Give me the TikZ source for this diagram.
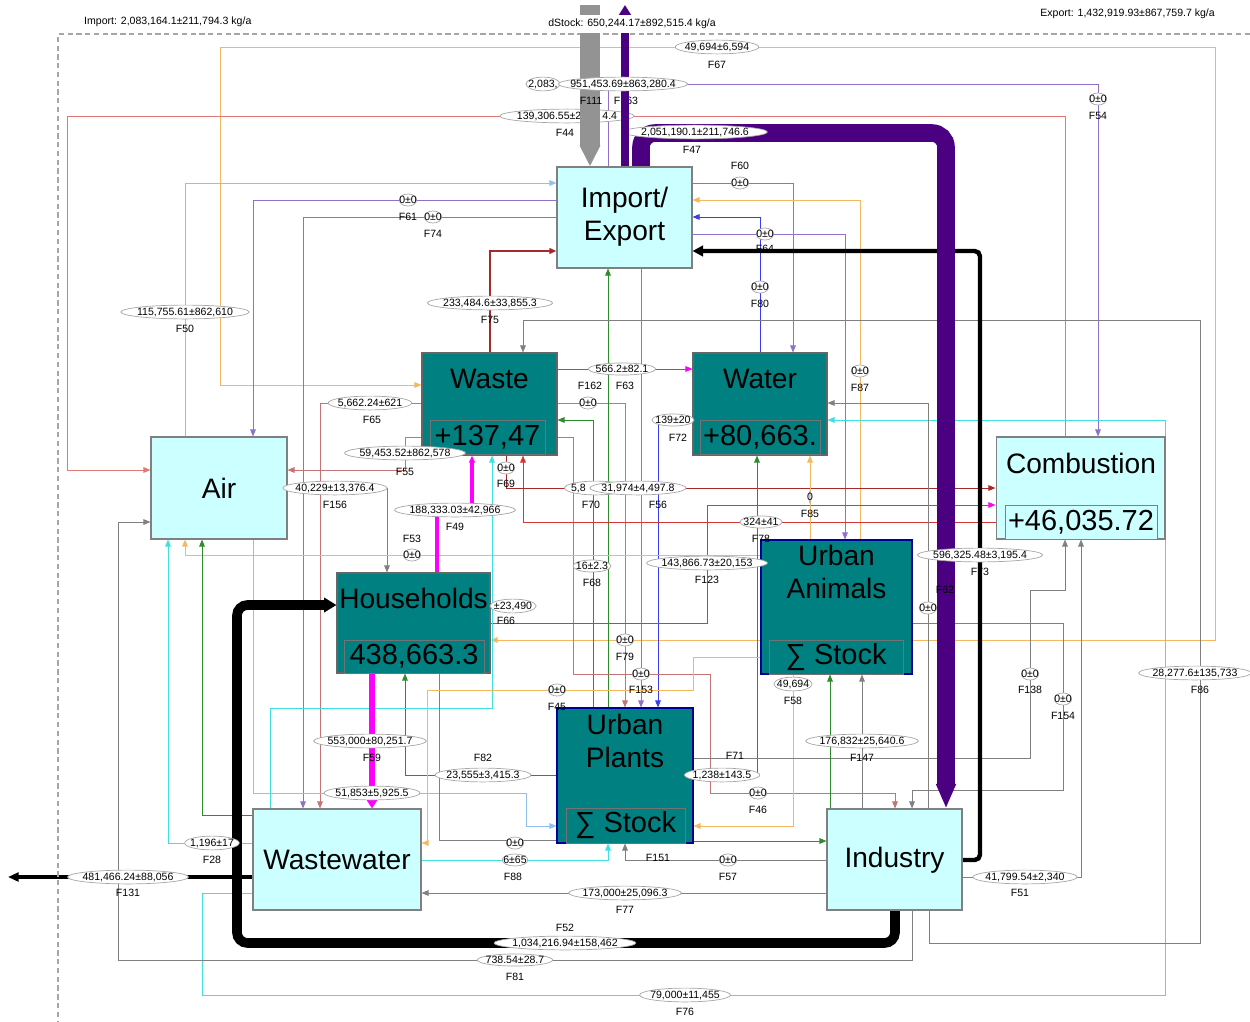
\documentclass[tikz,border=0pt]{standalone}
\usepackage{fontspec}
\setmainfont{Liberation Sans}
\usetikzlibrary{arrows.meta,shapes.geometric}

\definecolor{boxcyan}{HTML}{CCFFFF}
\definecolor{boxteal}{HTML}{008080}
\definecolor{flowind}{HTML}{4B0082}
\definecolor{flowlav}{HTML}{9070C8}
\definecolor{floworn}{HTML}{F4B860}
\definecolor{flowpink}{HTML}{E07878}
\definecolor{flowrose}{HTML}{C47474}
\definecolor{flowred}{HTML}{D03838}
\definecolor{flowdred}{HTML}{A52A2A}
\definecolor{flowmag}{HTML}{FF00FF}
\definecolor{flowgrn}{HTML}{2E8B2E}
\definecolor{flowcyn}{HTML}{40E0E0}
\definecolor{flowsky}{HTML}{90C0F0}
\definecolor{flowblu}{HTML}{3A3AF0}
\definecolor{flowgry}{HTML}{808080}

\newcommand{\lblfont}{\fontsize{6}{7}\selectfont}
\newcommand{\titfont}{\fontsize{16}{19}\selectfont}
\newcommand{\numfont}{\fontsize{16.5}{18}\selectfont}

\pgfdeclarelayer{flows}
\pgfsetlayers{flows,main}

\tikzset{
  cbox/.style={draw=gray, fill=boxcyan, line width=0.6pt, inner sep=0pt},
  tbox/.style={draw=black!60, fill=boxteal, line width=0.6pt, inner sep=0pt},
  ubox/.style={draw=blue!60!black, fill=boxteal, line width=0.6pt, inner sep=0pt},
  numbox/.style={draw=black!55, fill=boxteal, font=\numfont, inner sep=0pt, minimum height=0.68cm},
  title/.style={font=\titfont, align=center, inner sep=0pt},
  val/.style={ellipse, draw=gray!70, fill=white, line width=0.4pt, font=\lblfont, inner xsep=-1.5pt, inner ysep=0.3pt},
  fid/.style={font=\lblfont, inner sep=0.5pt},
  flow/.style={line width=0.5pt, ->},
}

\begin{document}
\begin{tikzpicture}[x=0.02cm, y=-0.02cm, >={Triangle[length=4pt,width=3.2pt]}]
\useasboundingbox (0,0) rectangle (1250,1021);
\draw[gray!70, densely dashed, line width=0.6pt] (1250,34) -- (58,34) -- (58,1021);

% Prozesse
\node[cbox, minimum width=2.7cm, minimum height=2.02cm] (imex) at (624.5,217.5) {};
\node[title] (imext) at (624.5,217) {Import/\\Export};
\node[tbox, minimum width=2.7cm, minimum height=2.04cm] (waste) at (489.5,404) {};
\node[title] (wastet) at (489.5,379) {Waste};
\node[numbox, minimum width=2.3cm] (wastev) at (487.5,437.5) {+137,47};
\node[tbox, minimum width=2.68cm, minimum height=2.04cm] (water) at (760,404) {};
\node[title] (watert) at (760,379) {Water};
\node[numbox, minimum width=2.4cm] (waterv) at (760,437.5) {+80,663.};
\node[cbox, minimum width=2.72cm, minimum height=2.04cm] (air) at (219,488) {};
\node[title] (airt) at (219,488) {Air};
\node[cbox, minimum width=3.38cm, minimum height=2.04cm] (comb) at (1080.5,488) {};
\node[title] (combt) at (1081,463) {Combustion};
\node[numbox, fill=boxcyan, draw=gray, minimum width=3.04cm] (combv) at (1081,522) {+46,035.72};
\node[tbox, minimum width=3.06cm, minimum height=2.0cm] (hh) at (413.5,623) {};
\node[title] (hht) at (413.5,598) {Households};
\node[numbox, minimum width=2.8cm, minimum height=0.66cm] (hhv) at (414,656.5) {438,663.3};
\node[ubox, minimum width=3.02cm, minimum height=2.68cm] (ua) at (836.5,607) {};
\node[title] (uat) at (836.5,572) {Urban\\Animals};
\node[numbox, minimum width=2.68cm] (uav) at (836,657) {∑ Stock};
\node[ubox, minimum width=2.72cm, minimum height=2.7cm] (up) at (625,775.5) {};
\node[title] (upt) at (625,741) {Urban\\Plants};
\node[numbox, minimum width=2.38cm, minimum height=0.7cm] (upv) at (625.5,825.5) {∑ Stock};
\node[cbox, minimum width=3.36cm, minimum height=2.02cm] (ww) at (337,859.5) {};
\node[title] (wwt) at (337,860) {Wastewater};
\node[cbox, minimum width=2.7cm, minimum height=2.02cm] (ind) at (894.5,859.5) {};
\node[title] (indt) at (894.5,860) {Industry};

% Fluesse
\begin{pgfonlayer}{flows}
\draw[flow, floworn, <->] (hh.east |- 0,640) -| (1215,47) -| (220,385) -- (waste.west |- 0,385);
\draw[flow, flowlav] (imex.north -| 608,0) |- (1098,84) -- (comb.north -| 1098,0);
\draw[flow, flowpink] (comb.north -| 1065,0) |- (67,116) |- (air.west |- 0,470);
\draw[flow, flowsky] (air.north -| 185,0) |- (imex.west |- 0,183);
\draw[flow, flowlav] (imex.west |- 0,200) -| (air.north -| 253,0);
\draw[flow, flowlav] (imex.west |- 0,217) -| (ww.north -| 303,0);
\draw[flow, flowdred, line width=1pt] (waste.north -| 490,0) |- (imex.west |- 0,251);
\draw[flow, flowlav] (imex.east |- 0,183) -| (water.north -| 793,0);
\draw[flow, floworn] (ua.north -| 860,0) |- (imex.east |- 0,200);
\draw[flow, flowblu] (water.north -| 760,0) |- (imex.east |- 0,217);
\draw[flow, flowlav] (imex.east |- 0,234) -| (ua.north -| 845,0);
\draw[flow, flowmag] (waste.east |- 0,369) -- (water.west |- 0,369);
\draw[flow, flowrose] (waste.east |- 0,403) -| (up.north -| 625,0);
\draw[flow, flowgrn] (up.north -| 593,0) |- (waste.east |- 0,420);
\draw[flow, flowgrn] (up.north -| 608,0) -- (imex.south -| 608,0);
\draw[flow, flowlav] (imex.south -| 641,0) -- (up.north -| 641,0);
\draw[flow, flowblu] (water.west |- 0,420) -| (up.north -| 658,0);
\draw[flow, flowrose] (waste.east |- 0,437) -| (573,674) -| (710,793) -| (ind.north -| 895,0);
\draw[flow, flowred] (comb.west |- 0,522) -| (waste.south -| 523,0);
\draw[flow, flowdred] (waste.south -| 506,0) |- (comb.west |- 0,488);
\draw[flow, flowmag] (hh.east |- 0,623) -| (707,505) -- (comb.west |- 0,505);
\draw[flow, flowrose] (waste.west |- 0,403) -| (ww.north -| 320,0);
\draw[flow, flowrose] (waste.west |- 0,437) -| (405,470) -- (air.east |- 0,470);
\draw[flow, flowgry] (air.east |- 0,488) -| (hh.north -| 387,0);
\draw[flow, floworn] (ua.west |- 0,555) -| (air.south -| 185,0);
\draw[flow, flowcyn] (ww.west |- 0,843) -| (air.south -| 168,0);
\draw[flow, flowgrn] (ww.west |- 0,815) -| (air.south -| 202,0);
\draw[flow, flowsky] (air.south -| 253,0) |- (526,793) |- (up.west |- 0,826);
\draw[flow, flowgrn] (up.west |- 0,775) -| (hh.south -| 405,0);
\draw[flow, flowcyn] (ww.north -| 270,0) |- (492,708) -- (waste.south -| 492,0);
\draw[line width=0.5pt, flowgry] (up.west |- 0,840) -| (hh.south -| 439,0);
\draw[flow, flowcyn] (ww.east |- 0,860) -| (up.south -| 608,0);
\draw[flow, flowcyn] (ww.west |- 0,893) -| (202,995) -| (1165,420) -- (water.east |- 0,420);
\draw[flow, flowgry] (ind.south -| 912,0) |- (118,960) |- (air.west |- 0,522);
\draw[flow, flowgry] (ind.south -| 929,0) |- (1200,943) -- (1200,320) -| (waste.north -| 523,0);
\draw[flow, flowgry] (ind.west |- 0,893) -- (ww.east |- 0,893);
\draw[flow, flowgry] (ind.west |- 0,860) -| (up.south -| 625,0);
\draw[flow, flowgrn] (up.east |- 0,841) -- (ind.west |- 0,841);
\draw[flow, floworn] (ua.south -| 793,0) |- (up.east |- 0,826);
\draw[flow, flowgrn] (up.east |- 0,775) -| (water.south -| 757,0);
\draw[flow, flowgry] (up.east |- 0,758) -| (1030,590) -| (comb.south -| 1065,0);
\draw[flow, flowgry] (ind.east |- 0,877) -| (comb.south -| 1081,0);
\draw[flow, flowgry] (ua.east |- 0,623) -| (1063,790) -| (ind.north -| 912,0);
\draw[flow, flowgry] (ind.north -| 862,0) -- (ua.south -| 862,0);
\draw[flow, flowgrn] (ind.north -| 830,0) -- (ua.south -| 830,0);
\draw[flow, flowgry] (ind.north -| 928,0) |- (water.east |- 0,403);
\draw[flow, floworn] (ua.north -| 810,0) -- (water.south -| 810,0);
\draw[flow, floworn] (ua.west |- 0,657) -| (693,690) -| (427,843) -- (ww.east |- 0,843);
\draw[flow, flowmag, line width=2pt] (hh.north -| 437,0) |- (472,510) -- (waste.south -| 472,0);
\draw[flow, flowmag, line width=3.4pt, -{Triangle[length=5pt,width=6pt]}] (hh.south -| 372,0) -- (ww.north -| 372,0);
\draw[flow, black, line width=2.5pt, rounded corners=3pt, -{Triangle[length=6pt,width=6pt]}] (ind.east |- 0,860) -| (980,251) -- (imex.east |- 0,251);
\draw[flow, black, line width=2.2pt, -{Triangle[length=6pt,width=5pt]}] (ww.west |- 0,877) -- (8,877);
\draw[flow, black, line width=5.5pt, rounded corners=6pt, -{Triangle[length=7pt,width=8pt]}] (ind.south -| 895,0) |- (237,943) |- (hh.west |- 0,605);
\draw[flow, flowind, line width=10pt, rounded corners=8pt, -{Triangle[length=14pt,width=10.5pt]}] (imex.north -| 641,0) |- (946,133) -- (ind.north -| 946,0);
\end{pgfonlayer}

% Werte
\node[val] (v67) at (717,47) {49,694±6,594};
\node[fid] (f67) at (717,65) {F67};
\node[fid] (f163) at (626,101) {F163};
\node[val] (v54) at (1098,99) {0±0};
\node[fid] (f54) at (1098,116) {F54};
\node[val] (v44) at (567,116) {139,306.55±2\kern12pt4.4};
\node[fid] (f44) at (565,133) {F44};
\node[val] (v47) at (695,132) {2,051,190.1±211,746.6};
\node[fid] (f47) at (692,150) {F47};
\node[val] (v60) at (740,183) {0±0};
\node[fid] (f60) at (740,166) {F60};
\node[val] (v61) at (408,200) {0±0};
\node[fid] (f61) at (408,217) {F61};
\node[val] (v74) at (433,217) {0±0};
\node[fid] (f74) at (433,234) {F74};
\node[val] (v64) at (765,234) {0±0};
\node[fid] (f64) at (765,249) {F64};
\node[val] (v80) at (760,287) {0±0};
\node[fid] (f80) at (760,304) {F80};
\node[val] (v75) at (490,303) {233,484.6±33,855.3};
\node[fid] (f75) at (490,320) {F75};
\node[val] (v50) at (185,312) {115,755.61±862,610};
\node[fid] (f50) at (185,329) {F50};
\node[val] (v63) at (622,369) {566.2±82.1};
\node[fid] (f162) at (590,386) {F162};
\node[fid] (f63) at (625,386) {F63};
\node[val] (v87) at (860,371) {0±0};
\node[fid] (f87) at (860,388) {F87};
\node[val] (vwu) at (588,403) {0±0};
\node[val] (v65) at (370,403) {5,662.24±621};
\node[fid] (f65) at (372,420) {F65};
\node[val] (v72) at (673,420) {139±20};
\node[fid] (f72) at (678,438) {F72};
\node[val] (v55) at (405,453) {59,453.52±862,578};
\node[fid] (f55) at (405,472) {F55};
\node[val] (v69) at (506,468) {0±0};
\node[fid] (f69) at (506,484) {F69};
\node[val] (v156) at (335,488) {40,229±13,376.4};
\node[fid] (f156) at (335,505) {F156};
\node[val] (v70) at (596,488) {5,8\kern20pt};
\node[val] (v56) at (638,488) {31,974±4,497.8};
\node[fid] (f70) at (591,505) {F70};
\node[fid] (f56) at (658,505) {F56};
\node[val] (v85) at (810,497) {0};
\node[fid] (f85) at (810,514) {F85};
\node[val] (v49) at (455,510) {188,333.03±42,966};
\node[fid] (f49) at (455,527) {F49};
\node[val] (v78) at (761,522) {324±41};
\node[fid] (f78) at (761,539) {F78};
\node[val] (v53) at (412,555) {0±0};
\node[fid] (f53) at (412,539) {F53};
\node[val] (v73) at (980,555) {596,325.48±3,195.4};
\node[fid] (f73) at (980,572) {F73};
\node[val] (v68) at (592,566) {16±2.3};
\node[fid] (f68) at (592,583) {F68};
\node[val] (v123) at (707,563) {143,866.73±20,153};
\node[fid] (f123) at (707,580) {F123};
\node[fid] (f62) at (945,590) {F62};
\node[val] (v66) at (513,606) {±23,490};
\node[fid] (f66) at (506,621) {F66};
\node[val] (vua) at (928,608) {0±0};
\node[val] (v79) at (625,640) {0±0};
\node[fid] (f79) at (625,657) {F79};
\node[val] (v153) at (641,674) {0±0};
\node[fid] (f153) at (641,690) {F153};
\node[val] (v138) at (1030,674) {0±0};
\node[fid] (f138) at (1030,690) {F138};
\node[val] (v86) at (1195,673) {28,277.6±135,733};
\node[fid] (f86) at (1200,690) {F86};
\node[val] (v58) at (793,684) {49,694};
\node[fid] (f58) at (793,701) {F58};
\node[val] (v45) at (557,690) {0±0};
\node[fid] (f45) at (557,707) {F45};
\node[val] (v154) at (1063,699) {0±0};
\node[fid] (f154) at (1063,716) {F154};
\node[val] (v59) at (370,741) {553,000±80,251.7};
\node[fid] (f59) at (372,758) {F59};
\node[val] (v147) at (862,741) {176,832±25,640.6};
\node[fid] (f147) at (862,758) {F147};
\node[val] (v82) at (483,775) {23,555±3,415.3};
\node[fid] (f82) at (483,758) {F82};
\node[val] (v71) at (722,775) {1,238±143.5};
\node[fid] (f71) at (735,756) {F71};
\node[val] (vww) at (372,793) {51,853±5,925.5};
\node[val] (v46) at (758,793) {0±0};
\node[fid] (f46) at (758,810) {F46};
\node[val] (v28) at (212,843) {1,196±17};
\node[fid] (f28) at (212,860) {F28};
\node[val] (vhh) at (515,843) {0±0};
\node[val] (v88) at (515,860) {6±65};
\node[fid] (f88) at (513,877) {F88};
\node[fid] (f151) at (658,858) {F151};
\node[val] (v57) at (728,860) {0±0};
\node[fid] (f57) at (728,877) {F57};
\node[val] (v131) at (128,877) {481,466.24±88,056};
\node[fid] (f131) at (128,893) {F131};
\node[val] (v51) at (1025,877) {41,799.54±2,340};
\node[fid] (f51) at (1020,893) {F51};
\node[val] (v77) at (625,893) {173,000±25,096.3};
\node[fid] (f77) at (625,910) {F77};
\node[val] (v52) at (565,943) {1,034,216.94±158,462};
\node[fid] (f52) at (565,928) {F52};
\node[val] (v81) at (515,960) {738.54±28.7};
\node[fid] (f81) at (515,977) {F81};
\node[val] (v76) at (685,995) {79,000±11,455};
\node[fid] (f76) at (685,1012) {F76};

% Import / Export
\draw[flowgry!85, line width=11pt, -{Triangle[length=12pt,width=11pt]}] (590,5) -- (imex.north -| 590,0);
\node[fid] (f111) at (591,101) {F111};
\draw[flowind, line width=4.5pt, -{Triangle[length=6pt,width=7pt]}] (imex.north -| 625,0) -- (625,5);
\node[val] (v111) at (543,84) {2,083,};
\node[val, inner xsep=-4pt] (v163) at (623,84) {951,453.69±863,280.4};
\node[fid, anchor=west] (imp) at (83,22) {Import: 2,083,164.1±211,794.3 kg/a};
\node[fid, fill=white, inner ysep=2.5pt] (dst) at (632,24) {dStock: 650,244.17±892,515.4 kg/a};
\node[fid, anchor=east] (exp) at (1216,14) {Export: 1,432,919.93±867,759.7 kg/a};
\end{tikzpicture}
\end{document}
